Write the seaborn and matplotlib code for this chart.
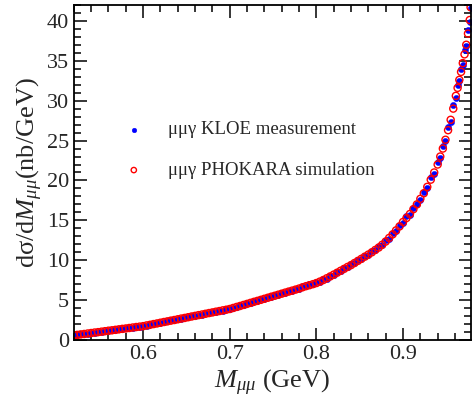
import numpy as np
import pandas as pd
import seaborn as sns
import matplotlib.pyplot as plt
from matplotlib.ticker import MultipleLocator

# masse invariante (GeV)
mass = [0.520, 0.524, 0.528, 0.532, 0.536, 0.540, 0.544, 0.548, 0.552, 0.556,
        0.560, 0.564, 0.568, 0.572, 0.576, 0.580, 0.584, 0.588, 0.592, 0.596,
        0.600, 0.604, 0.608, 0.612, 0.616, 0.620, 0.624, 0.628, 0.632, 0.636,
        0.640, 0.644, 0.648, 0.652, 0.656, 0.660, 0.664, 0.668, 0.672, 0.676,
        0.680, 0.684, 0.688, 0.692, 0.696, 0.700, 0.704, 0.708, 0.712, 0.716,
        0.720, 0.724, 0.728, 0.732, 0.736, 0.740, 0.744, 0.748, 0.752, 0.756,
        0.760, 0.764, 0.768, 0.772, 0.776, 0.780, 0.784, 0.788, 0.792, 0.796,
        0.800, 0.804, 0.808, 0.812, 0.816, 0.820, 0.824, 0.828, 0.832, 0.836,
        0.840, 0.844, 0.848, 0.852, 0.856, 0.860, 0.864, 0.868, 0.872, 0.876,
        0.880, 0.884, 0.888, 0.892, 0.896, 0.900,
        0.904, 0.908, 0.912, 0.916, 0.920, 0.924, 0.928, 0.932, 0.936, 0.940,
        0.943, 0.946, 0.949, 0.952, 0.955, 0.958, 0.961, 0.963, 0.965, 0.967,
        0.969, 0.971, 0.973, 0.975, 0.977, 0.978]

# KLOE measurement (nb/GeV)
kloe = [0.62, 0.64, 0.75, 0.79, 0.81, 0.92, 0.94, 1.03, 1.05, 1.15,
        1.16, 1.27, 1.28, 1.40, 1.38, 1.49, 1.55, 1.56, 1.70, 1.66,
        1.79, 1.82, 1.97, 1.99, 2.13, 2.16, 2.33, 2.34, 2.47, 2.50,
        2.66, 2.68, 2.84, 2.85, 3.02, 3.01, 3.18, 3.20, 3.36, 3.37,
        3.53, 3.55, 3.70, 3.71, 3.87, 3.93, 4.08, 4.14, 4.35, 4.38,
        4.60, 4.64, 4.88, 4.89, 5.12, 5.15, 5.40, 5.41, 5.63, 5.66,
        5.90, 5.92, 6.16, 6.18, 6.42, 6.44, 6.72, 6.74, 6.97, 6.99,
        7.24, 7.30, 7.63, 7.71, 8.09, 8.17, 8.56, 8.65, 9.05, 9.12,
        9.51, 9.62, 10.06, 10.14, 10.58, 10.68, 11.12, 11.25, 11.75, 11.90,
        12.49, 12.72, 13.42, 13.66, 14.42, 14.70,
        15.5, 15.7, 16.6, 17.1, 17.5, 18.6, 19.1, 20.4, 20.8, 22.3,
        22.8, 24.3, 24.9, 26.7, 27.3, 29.4, 30.3, 32.0, 32.4, 34.0,
        34.5, 36.3, 36.8, 38.8, 39.9, 41.6]

# PHOKARA simulation (nb/GeV)
phokara = [0.60, 0.66, 0.72, 0.77, 0.83, 0.89, 0.95, 1.00, 1.06, 1.12,
           1.18, 1.23, 1.29, 1.35, 1.41, 1.46, 1.52, 1.58, 1.64, 1.69,
           1.75, 1.84, 1.92, 2.01, 2.09, 2.18, 2.27, 2.35, 2.44, 2.52,
           2.61, 2.70, 2.78, 2.87, 2.96, 3.04, 3.13, 3.21, 3.30, 3.39,
           3.47, 3.56, 3.64, 3.73, 3.81, 3.90, 4.03, 4.16, 4.28, 4.41,
           4.54, 4.67, 4.80, 4.92, 5.05, 5.18, 5.31, 5.44, 5.56, 5.69,
           5.82, 5.95, 6.08, 6.20, 6.33, 6.46, 6.62, 6.76, 6.88, 7.01,
           7.15, 7.33, 7.53, 7.75, 7.98, 8.21, 8.45, 8.69, 8.93, 9.17,
           9.40, 9.66, 9.93, 10.19, 10.46, 10.72, 11.00, 11.30, 11.60, 11.95,
           12.35, 12.80, 13.25, 13.75, 14.25, 14.80,
           15.3, 15.8, 16.4, 17.0, 17.7, 18.4, 19.2, 20.1, 21.0, 22.0,
           23.0, 24.0, 25.1, 26.3, 27.6, 29.0, 30.6, 31.6, 32.6, 33.6,
           34.7, 35.8, 37.0, 38.4, 40.1, 41.7]

df = pd.DataFrame({'mass': mass, 'kloe': kloe, 'phokara': phokara})

sns.set_style('ticks')
plt.rcParams['font.family'] = ['Liberation Serif', 'DejaVu Serif']
plt.rcParams['mathtext.fontset'] = 'custom'
plt.rcParams['mathtext.rm'] = 'Liberation Serif'
plt.rcParams['mathtext.it'] = 'Liberation Serif:italic'

fig = plt.figure(figsize=(4.73, 4.03), dpi=100)
ax = fig.add_axes([0.156, 0.156, 0.84, 0.832])

sns.scatterplot(data=df, x='mass', y='kloe', ax=ax, color='blue', marker='o',
                s=20, edgecolor='blue', linewidth=0.3,
                label='μμγ KLOE measurement')
sns.scatterplot(data=df, x='mass', y='phokara', ax=ax, marker='o',
                s=26, facecolor='none', edgecolor='red', linewidth=1.0,
                label='μμγ PHOKARA simulation')

ax.set_xlim(0.52, 0.9786)
ax.set_ylim(0, 42)
ax.xaxis.set_minor_locator(MultipleLocator(0.02))
ax.yaxis.set_major_locator(MultipleLocator(5))
ax.yaxis.set_minor_locator(MultipleLocator(1))
ax.set_xticks([0.6, 0.7, 0.8, 0.9])
ax.set_xticklabels(['0.6', '0.7', '0.8', '0.9'])
ax.tick_params(which='both', direction='in', top=True, right=True,
               labelsize=16, width=1.1, color='black')
ax.tick_params(which='major', length=9)
ax.tick_params(which='minor', length=5)
for sp in ax.spines.values():
    sp.set_linewidth(1.3)
    sp.set_color('black')

ax.set_xlabel(r'$M_{\mu\mu}$ (GeV)', fontsize=19, labelpad=3)
ax.set_ylabel(r'dσ/d$M_{\mu\mu}$(nb/GeV)', fontsize=19, labelpad=1)

ax.legend(loc='upper left', bbox_to_anchor=(0.085, 0.675), frameon=False,
          fontsize=13.5, handletextpad=0.8, labelspacing=1.25,
          borderaxespad=0, scatterpoints=1, markerscale=0.75)

fig.savefig('out.png', dpi=100)
